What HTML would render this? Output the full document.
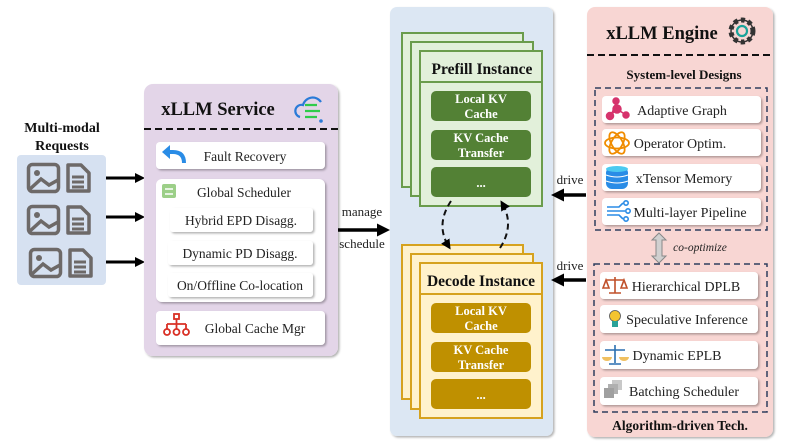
<!DOCTYPE html>
<html><head><meta charset="utf-8"><style>
html,body{margin:0;padding:0;background:#fff;width:793px;height:443px;overflow:hidden}
svg{display:block}
text{font-family:"Liberation Serif",serif;fill:#222}
.b{font-weight:bold;fill:#111}
.w{fill:#fff;font-weight:bold}
</style></head><body>
<svg width="793" height="443" viewBox="0 0 793 443" xmlns="http://www.w3.org/2000/svg">
<defs>
<filter id="sh" x="-10%" y="-20%" width="130%" height="150%"><feDropShadow dx="1.5" dy="1.5" stdDeviation="1" flood-color="#000" flood-opacity="0.3"/></filter>
<marker id="ah" markerWidth="10" markerHeight="10" refX="7" refY="5" orient="auto" markerUnits="userSpaceOnUse"><path d="M0,0 L10,5 L0,10 Z" fill="#000"/></marker>
<marker id="ah2" markerWidth="13" markerHeight="13" refX="9" refY="6.5" orient="auto" markerUnits="userSpaceOnUse"><path d="M0,0 L13,6.5 L0,13 Z" fill="#000"/></marker>
<g id="img"><rect x="1.5" y="1.5" width="30" height="27" rx="4" fill="none" stroke="#6d6968" stroke-width="3.5"/><circle cx="10" cy="10" r="3" fill="#6d6968"/><path d="M3,26 L14,16 L22,22 L31,17" fill="none" stroke="#6d6968" stroke-width="3.5"/></g>
<g id="doc"><path d="M2,2 H15 L23,10 V28 H2 Z" fill="none" stroke="#6d6968" stroke-width="3.5" stroke-linejoin="round"/><path d="M6,14 H18 M6,19 H18 M6,24 H18" stroke="#6d6968" stroke-width="3"/></g>
</defs>

<!-- Requests -->
<text x="62" y="132" class="b" font-size="14" text-anchor="middle">Multi-modal</text>
<text x="62" y="150" class="b" font-size="14" text-anchor="middle">Requests</text>
<rect x="17" y="155" width="89" height="130" rx="4" fill="#d6e1f1"/>
<use href="#img" x="27" y="163"/><use href="#doc" x="66" y="163"/>
<use href="#img" x="27" y="205"/><use href="#doc" x="66" y="205"/>
<use href="#img" x="29" y="248"/><use href="#doc" x="68" y="248"/>
<line x1="106" y1="178" x2="142" y2="178" stroke="#000" stroke-width="3" marker-end="url(#ah)"/>
<line x1="106" y1="217" x2="142" y2="217" stroke="#000" stroke-width="3" marker-end="url(#ah)"/>
<line x1="106" y1="262" x2="142" y2="262" stroke="#000" stroke-width="3" marker-end="url(#ah)"/>

<!-- Service -->
<rect x="144" y="84" width="194" height="272" rx="9" fill="#e3d5e8" filter="url(#sh)"/>
<text x="218" y="115" class="b" font-size="18.5" text-anchor="middle">xLLM Service</text>
<path d="M300,117 a6,6 0 0 1 3,-12 a10,10 0 0 1 18,-3" fill="none" stroke="#2a7bd8" stroke-width="2.2"/>
<path d="M305,105 h12 M305,111 h15 M305,117 h12" stroke="#2fcc4a" stroke-width="2.2"/>
<circle cx="321" cy="121" r="1.8" fill="#2a7bd8"/>
<line x1="144" y1="129" x2="338" y2="129" stroke="#111" stroke-width="2" stroke-dasharray="7,4"/>
<rect x="156" y="142" width="169" height="27" rx="4" fill="#fff" filter="url(#sh)"/>
<path d="M184,163 q0,-11 -11,-11 h-5" fill="none" stroke="#2a8ce6" stroke-width="4"/><path d="M162,152 l8,-7 v14 z" fill="#2a8ce6"/>
<text x="245" y="161" font-size="13.5" text-anchor="middle">Fault Recovery</text>
<rect x="156" y="179" width="169" height="123" rx="6" fill="#fff" filter="url(#sh)"/>
<rect x="162" y="184" width="14" height="14" rx="2" fill="#9ccf88"/>
<path d="M165,189 h8 M165,194 h8" stroke="#fff" stroke-width="1.5"/>
<text x="244" y="197" font-size="13.5" text-anchor="middle">Global Scheduler</text>
<rect x="170" y="208" width="143" height="24" rx="3" fill="#fff" filter="url(#sh)"/>
<text x="241" y="225" font-size="13.5" text-anchor="middle">Hybrid EPD Disagg.</text>
<rect x="168" y="241" width="145" height="24" rx="3" fill="#fff" filter="url(#sh)"/>
<text x="240" y="258" font-size="13.5" text-anchor="middle">Dynamic PD Disagg.</text>
<rect x="168" y="273" width="145" height="24" rx="3" fill="#fff" filter="url(#sh)"/>
<text x="240" y="290" font-size="13.5" text-anchor="middle">On/Offline Co-location</text>
<rect x="156" y="311" width="169" height="34" rx="4" fill="#fff" filter="url(#sh)"/>
<g fill="none" stroke="#d93025" stroke-width="1.8"><rect x="174" y="314" width="5" height="5"/><path d="M176.5,319 v5 M167,324 h19 M167,324 v5 M176.5,324 v5 M186,324 v5"/><circle cx="167" cy="332" r="3"/><circle cx="176.5" cy="332" r="3"/><circle cx="186" cy="332" r="3"/></g>
<text x="255" y="333" font-size="13.5" text-anchor="middle">Global Cache Mgr</text>

<!-- manage -->
<text x="362" y="216" font-size="13" text-anchor="middle">manage</text>
<text x="362" y="248" font-size="13" text-anchor="middle">schedule</text>
<line x1="338" y1="230" x2="386" y2="230" stroke="#000" stroke-width="3.5" marker-end="url(#ah2)"/>

<!-- Blue panel -->
<rect x="390" y="7" width="163" height="429" rx="7" fill="#dce7f3" filter="url(#sh)"/>
<rect x="402" y="33" width="121" height="154" fill="#e2f0da" stroke="#6a9c4c" stroke-width="2"/>
<rect x="411" y="42" width="122" height="154" fill="#e2f0da" stroke="#6a9c4c" stroke-width="2"/>
<rect x="420" y="51" width="122" height="155" fill="#e2f0da" stroke="#6a9c4c" stroke-width="2"/>
<line x1="420" y1="82" x2="542" y2="82" stroke="#6a9c4c" stroke-width="2"/>
<text x="482" y="74" class="b" font-size="15.5" text-anchor="middle">Prefill Instance</text>
<rect x="431" y="91" width="100" height="30" rx="5" fill="#538135"/>
<text x="481" y="103" class="w" font-size="12.5" text-anchor="middle">Local KV</text><text x="481" y="118" class="w" font-size="12.5" text-anchor="middle">Cache</text>
<rect x="431" y="130" width="100" height="30" rx="5" fill="#538135"/>
<text x="481" y="142" class="w" font-size="12.5" text-anchor="middle">KV Cache</text><text x="481" y="157" class="w" font-size="12.5" text-anchor="middle">Transfer</text>
<rect x="431" y="167" width="100" height="30" rx="5" fill="#538135"/>
<text x="481" y="187" class="w" font-size="12.5" text-anchor="middle">...</text>

<rect x="402" y="245" width="121" height="154" fill="#fff2cc" stroke="#d6a21e" stroke-width="2"/>
<rect x="411" y="254" width="122" height="155" fill="#fff2cc" stroke="#d6a21e" stroke-width="2"/>
<rect x="420" y="263" width="122" height="155" fill="#fff2cc" stroke="#d6a21e" stroke-width="2"/>
<line x1="420" y1="294" x2="542" y2="294" stroke="#d6a21e" stroke-width="2"/>
<text x="481" y="286" class="b" font-size="15.5" text-anchor="middle">Decode Instance</text>
<rect x="431" y="303" width="100" height="30" rx="5" fill="#bf9000"/>
<text x="481" y="315" class="w" font-size="12.5" text-anchor="middle">Local KV</text><text x="481" y="330" class="w" font-size="12.5" text-anchor="middle">Cache</text>
<rect x="431" y="342" width="100" height="30" rx="5" fill="#bf9000"/>
<text x="481" y="354" class="w" font-size="12.5" text-anchor="middle">KV Cache</text><text x="481" y="369" class="w" font-size="12.5" text-anchor="middle">Transfer</text>
<rect x="431" y="379" width="100" height="30" rx="5" fill="#bf9000"/>
<text x="481" y="399" class="w" font-size="12.5" text-anchor="middle">...</text>

<path d="M451,201 Q435,225 449,247" fill="none" stroke="#111" stroke-width="2" stroke-dasharray="6,4" marker-end="url(#ah)"/>
<path d="M500,248 Q515,225 502,203" fill="none" stroke="#111" stroke-width="2" stroke-dasharray="6,4" marker-end="url(#ah)"/>

<!-- drive -->
<text x="570" y="184" font-size="13" text-anchor="middle">drive</text>
<line x1="586" y1="195" x2="555" y2="195" stroke="#000" stroke-width="3.5" marker-end="url(#ah2)"/>
<text x="570" y="270" font-size="13" text-anchor="middle">drive</text>
<line x1="586" y1="280" x2="555" y2="280" stroke="#000" stroke-width="3.5" marker-end="url(#ah2)"/>

<!-- Engine -->
<rect x="587" y="7" width="186" height="430" rx="8" fill="#f8d6d3" filter="url(#sh)"/>
<text x="662" y="39" class="b" font-size="18.5" text-anchor="middle">xLLM Engine</text>
<circle cx="742" cy="31" r="11" fill="none" stroke="#333" stroke-width="5" stroke-dasharray="4,3.2"/>
<circle cx="742" cy="31" r="11" fill="none" stroke="#333" stroke-width="1.5"/>
<circle cx="742" cy="31" r="5" fill="none" stroke="#1aa39a" stroke-width="2.2"/>
<line x1="587" y1="55" x2="773" y2="55" stroke="#111" stroke-width="2" stroke-dasharray="7,4"/>
<text x="684" y="79" class="b" font-size="13" text-anchor="middle">System-level Designs</text>
<rect x="595" y="88" width="172" height="142" fill="none" stroke="#2f3e5e" stroke-width="1.5" stroke-dasharray="6,4"/>
<rect x="602" y="96" width="159" height="27" rx="4" fill="#fff" filter="url(#sh)"/>
<g fill="#d6336c" stroke="#d6336c" stroke-width="1.5"><circle cx="616" cy="101" r="3"/><circle cx="610" cy="116" r="3.5"/><circle cx="626" cy="115" r="3"/><circle cx="617" cy="109" r="4"/><path d="M616,101 L617,109 L610,116 M617,109 L626,115"/></g>
<text x="682" y="115" font-size="14" text-anchor="middle">Adaptive Graph</text>
<rect x="602" y="129" width="159" height="27" rx="4" fill="#fff" filter="url(#sh)"/>
<g fill="none" stroke="#f08c00" stroke-width="1.8"><ellipse cx="617" cy="143" rx="12" ry="5.5"/><ellipse cx="617" cy="143" rx="12" ry="5.5" transform="rotate(60 617 143)"/><ellipse cx="617" cy="143" rx="12" ry="5.5" transform="rotate(-60 617 143)"/></g>
<text x="680" y="148" font-size="14" text-anchor="middle">Operator Optim.</text>
<rect x="602" y="164" width="159" height="27" rx="4" fill="#fff" filter="url(#sh)"/>
<rect x="606" y="167" width="22" height="22" rx="6" fill="#2a8ce6"/><ellipse cx="617" cy="169" rx="11" ry="3" fill="#4cc9f0"/><path d="M606,175 q11,4 22,0 M606,181 q11,4 22,0" stroke="#fff" stroke-width="1" fill="none"/>
<text x="684" y="183" font-size="14" text-anchor="middle">xTensor Memory</text>
<rect x="602" y="198" width="159" height="27" rx="4" fill="#fff" filter="url(#sh)"/>
<g fill="none" stroke="#2a8ce6" stroke-width="1.6"><path d="M607,207 h12 l4,-4 M607,211 h18 M607,215 h12 l4,4"/><circle cx="626" cy="203" r="2.2"/><circle cx="628" cy="211" r="2.2"/><circle cx="626" cy="219" r="2.2"/></g>
<text x="690" y="217" font-size="14" text-anchor="middle">Multi-layer Pipeline</text>

<path d="M659,233 l7,7 h-4 v16 h4 l-7,7 l-7,-7 h4 v-16 h-4 z" fill="#d0d0d0" stroke="#888" stroke-width="1"/>
<text x="700" y="251" font-size="11.5" font-style="italic" text-anchor="middle">co-optimize</text>

<rect x="594" y="264" width="173" height="148" fill="none" stroke="#2f3e5e" stroke-width="1.5" stroke-dasharray="6,4"/>
<rect x="600" y="272" width="158" height="27" rx="4" fill="#fff" filter="url(#sh)"/>
<g stroke="#c0502a" stroke-width="1.6" fill="none"><path d="M615,277 v16 M609,293 h12 M606,280 h18 M606,280 l-3,8 h6 z M624,280 l-3,8 h6 z"/></g>
<text x="686" y="291" font-size="14" text-anchor="middle">Hierarchical DPLB</text>
<rect x="600" y="305" width="158" height="28" rx="4" fill="#fff" filter="url(#sh)"/>
<circle cx="615" cy="316" r="5.5" fill="#f4c430" stroke="#555" stroke-width="0.8"/><rect x="612" y="321" width="6" height="6" fill="#2aa198"/>
<text x="687" y="324" font-size="14" text-anchor="middle">Speculative Inference</text>
<rect x="600" y="341" width="158" height="28" rx="4" fill="#fff" filter="url(#sh)"/>
<g stroke="#2a6fb0" stroke-width="1.6"><path d="M615,345 v18 M609,364 h12 M605,350 h20"/></g><path d="M602,357 a5,4 0 0 0 10,0 z M619,357 a5,4 0 0 0 10,0 z" fill="#f0c060"/>
<text x="677" y="360" font-size="14" text-anchor="middle">Dynamic EPLB</text>
<rect x="600" y="377" width="158" height="28" rx="4" fill="#fff" filter="url(#sh)"/>
<rect x="612" y="380" width="10" height="10" fill="#c8c8c8"/><rect x="608" y="384" width="10" height="10" fill="#b0b0b0"/><rect x="604" y="388" width="10" height="10" fill="#a0a0a0"/>
<text x="684" y="396" font-size="14" text-anchor="middle">Batching Scheduler</text>
<text x="680" y="430" class="b" font-size="13.5" text-anchor="middle">Algorithm-driven Tech.</text>
</svg>
</body></html>
